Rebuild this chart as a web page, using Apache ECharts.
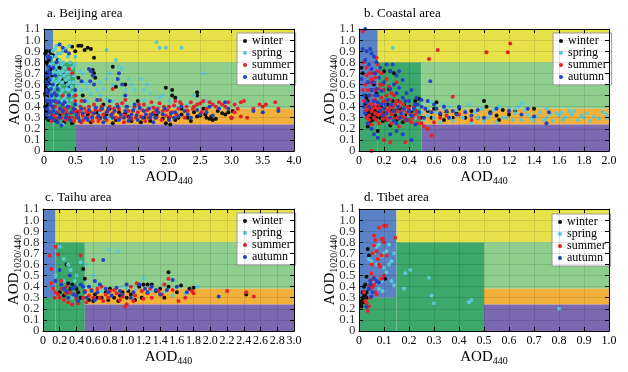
<!DOCTYPE html>
<html><head><meta charset="utf-8">
<script src="https://cdn.jsdelivr.net/npm/echarts@6/dist/echarts.min.js"></script>
<style>html,body{margin:0;padding:0;background:#fff}#c{width:628px;height:372px}</style>
</head><body><div id="c"></div>
<script>
// ---------- data ----------
const panelTitles = ['a. Beijing area','b. Coastal area','c. Taihu area','d. Tibet area'];
const seasons = ['winter','spring','summer','autumn'];
const xMax = [4, 2, 3, 1];
const xStep = [0.5, 0.2, 0.2, 0.1];
const yMax = 1.1, yStep = 0.1;
const yTicks = [0, 0.1, 0.2, 0.3, 0.4, 0.5, 0.6, 0.7, 0.8, 0.9, 1.0, 1.1];
// aerosol-type regions: [x0, x1 (null = axis max), y0, y1]
const regions = [
  [0, 0.15, 0.3, 1.1],
  [0.15, 0.5, 0, 0.8],
  [0, 0.15, 0, 0.3],
  [0.15, null, 0.8, 1.1],
  [0.5, null, 0.38, 0.8],
  [0.5, null, 0.24, 0.38],
  [0.5, null, 0, 0.24]
];

// Beijing
const bjWinter = [[0.03,0.62],[0.05,0.65],[0.04,0.7],[0.06,0.66],[0.08,0.63],[0.05,0.55],[0.07,0.5],[0.03,0.45],[0.09,0.72],[0.1,0.9],[0.12,0.88],[0.15,0.86],[0.06,0.78],[0.04,0.8],[0.02,0.4],[0.08,0.35],[0.1,0.3],[0.14,0.32],[0.18,0.28],[0.2,0.6],[0.25,0.75],[0.3,0.7],[0.35,0.62],[0.45,0.94],[0.55,0.95],[0.6,0.95],[0.7,0.93],[0.75,0.92],[0.65,0.91],[0.5,0.9],[0.8,0.7],[0.82,0.66],[0.78,0.73],[1.1,0.76],[1.15,0.58],[1.95,0.57],[2.05,0.55],[2.05,0.5],[2.1,0.48],[2.45,0.53],[2.45,0.5],[1.5,0.45],[0.95,0.42],[0.4,0.3],[0.6,0.28],[0.7,0.33],[0.9,0.3],[1.1,0.25],[1.2,0.35],[1.4,0.27],[1.6,0.3],[1.8,0.32],[1.95,0.25],[2.0,0.3],[2.1,0.28],[2.2,0.33],[2.3,0.3],[2.4,0.35],[2.5,0.32],[2.6,0.3],[2.65,0.29],[2.7,0.28],[2.75,0.29],[2.9,0.33],[2.95,0.35],[2.55,0.38],[2.2,0.38],[1.7,0.27],[0.5,0.37],[1.3,0.34],[1.05,0.38],[0.25,0.32],[0.15,0.4],[3.0,0.3],[2.85,0.34],
  [0.02,0.88],[0.04,0.9],[0.07,0.85],[0.03,0.58],[0.05,0.6],[0.02,0.52],[0.06,0.42],[0.04,0.36],[0.09,0.55],[0.11,0.6],[0.13,0.68],[0.08,0.82],[0.12,0.74],[0.03,0.3],[0.07,0.28],[0.2,0.27],[0.32,0.26],[0.45,0.25],[0.55,0.35],[0.75,0.26],[0.85,0.35],[1.0,0.33],[1.15,0.28],[1.35,0.31],[1.55,0.26],[1.75,0.34],[1.9,0.29],[2.02,0.24],[2.15,0.3],[2.35,0.27],[2.45,0.31],[2.58,0.33],[2.68,0.31],[2.78,0.36],[3.02,0.36],[0.18,0.72],[0.22,0.82],[0.28,0.64],[0.4,0.58],[0.55,0.66],[0.62,0.5],[1.3,0.6],[0.8,0.84]];
const bjSpring = [[0.12,0.85],[0.15,0.8],[0.18,0.75],[0.2,0.7],[0.22,0.88],[0.25,0.82],[0.28,0.78],[0.3,0.72],[0.32,0.68],[0.35,0.64],[0.38,0.6],[0.4,0.55],[0.42,0.5],[0.45,0.46],[0.2,0.62],[0.25,0.58],[0.3,0.55],[0.18,0.52],[0.22,0.48],[0.15,0.65],[0.12,0.55],[0.28,0.45],[0.35,0.5],[0.38,0.72],[0.42,0.8],[0.3,0.9],[0.35,0.92],[0.2,0.95],[0.25,0.96],[0.5,0.85],[0.55,0.6],[0.6,0.55],[0.48,0.68],[0.16,0.72],[0.26,0.66],[0.33,0.42],[0.14,0.46],[0.45,0.75],[0.52,0.5],[0.7,0.6],[0.75,0.52],[0.85,0.55],[0.9,0.62],[1.0,0.91],[1.0,0.65],[1.05,0.7],[1.15,0.82],[1.2,0.76],[1.25,0.74],[1.1,0.6],[1.3,0.55],[1.4,0.6],[1.55,0.65],[1.6,0.55],[1.7,0.52],[1.8,0.98],[1.85,0.93],[1.95,0.93],[2.2,0.93],[1.9,0.5],[2.0,0.45],[2.55,0.7],[2.3,0.42],[0.8,0.4],[1.2,0.43],[0.6,0.28],[0.3,0.24],[0.9,0.35],[1.5,0.38],[1.75,0.4],[1.0,0.47],[0.55,0.42],[2.6,0.45],
  [0.1,0.78],[0.13,0.7],[0.17,0.6],[0.19,0.85],[0.21,0.78],[0.23,0.72],[0.24,0.64],[0.27,0.7],[0.29,0.62],[0.31,0.8],[0.33,0.75],[0.36,0.7],[0.37,0.56],[0.39,0.66],[0.41,0.62],[0.43,0.7],[0.44,0.58],[0.46,0.52],[0.47,0.62],[0.49,0.78],[0.16,0.58],[0.19,0.4],[0.23,0.38],[0.27,0.52],[0.32,0.48],[0.36,0.45],[0.4,0.42],[0.13,0.62],[0.11,0.5],[0.09,0.58],[0.14,0.9],[0.18,0.92],[0.26,0.88],[0.4,0.95],[0.38,0.85],[0.62,0.7],[0.65,0.62],[0.68,0.55],[0.58,0.72],[0.9,0.5],[0.95,0.56],[1.35,0.65],[1.45,0.55],[1.65,0.6],[1.85,0.48],[2.15,0.45],[2.4,0.5],[2.1,0.4],[0.7,0.45],[1.1,0.45],[1.3,0.4],[1.6,0.46],[0.45,0.3],[0.75,0.3],[1.05,0.3],[1.4,0.33],[1.9,0.35],[0.2,0.32]];
const bjSummer = [[0.1,0.35],[0.15,0.32],[0.2,0.3],[0.25,0.38],[0.3,0.34],[0.35,0.28],[0.4,0.4],[0.45,0.3],[0.5,0.36],[0.55,0.33],[0.6,0.26],[0.65,0.38],[0.7,0.3],[0.75,0.35],[0.8,0.42],[0.85,0.3],[0.9,0.37],[0.95,0.33],[1.0,0.28],[1.05,0.4],[1.1,0.34],[1.15,0.3],[1.2,0.38],[1.25,0.43],[1.3,0.32],[1.35,0.36],[1.4,0.29],[1.45,0.4],[1.5,0.35],[1.55,0.31],[1.6,0.42],[1.65,0.37],[1.7,0.33],[1.75,0.39],[1.8,0.3],[1.85,0.43],[1.9,0.36],[1.95,0.32],[2.0,0.4],[2.05,0.35],[2.1,0.45],[2.15,0.38],[2.2,0.42],[2.3,0.36],[2.35,0.44],[2.4,0.4],[2.5,0.43],[2.55,0.45],[2.6,0.38],[2.7,0.42],[2.8,0.44],[2.9,0.4],[3.0,0.3],[3.05,0.42],[3.1,0.38],[3.15,0.44],[3.2,0.45],[3.05,0.35],[3.25,0.3],[3.35,0.38],[3.5,0.4],[3.55,0.42],[3.7,0.44],[3.75,0.38],[0.4,0.74],[0.45,0.7],[0.5,0.45],[1.1,0.56],[0.3,0.5],[0.2,0.44],[0.12,0.27],[0.62,0.32],[0.78,0.27],[1.02,0.36],[1.28,0.26],[1.62,0.27],[1.88,0.28],[2.25,0.3],[0.35,0.36],[0.58,0.4],
  [0.15,0.28],[0.22,0.35],[0.28,0.3],[0.33,0.38],[0.38,0.3],[0.42,0.34],[0.48,0.27],[0.52,0.3],[0.57,0.36],[0.63,0.28],[0.68,0.35],[0.72,0.4],[0.77,0.31],[0.82,0.37],[0.87,0.27],[0.92,0.4],[0.97,0.3],[1.07,0.32],[1.12,0.38],[1.17,0.42],[1.22,0.3],[1.32,0.4],[1.37,0.3],[1.42,0.36],[1.47,0.3],[1.52,0.42],[1.57,0.37],[1.67,0.3],[1.72,0.44],[1.77,0.35],[1.82,0.38],[1.92,0.4],[1.97,0.37],[2.02,0.31],[2.08,0.41],[2.12,0.33],[2.18,0.44],[2.28,0.4],[2.38,0.38],[2.45,0.42],[2.52,0.35],[2.65,0.44],[2.75,0.4],[2.85,0.42],[2.95,0.44],[3.15,0.31],[3.45,0.42],[0.5,0.5],[0.3,0.42],[0.18,0.4],[0.6,0.45],[0.9,0.46],[1.3,0.46]];
const bjAutumn = [[0.02,0.5],[0.04,0.55],[0.06,0.6],[0.08,0.45],[0.05,0.38],[0.1,0.42],[0.12,0.5],[0.03,0.33],[0.07,0.3],[0.14,0.6],[0.1,0.7],[0.08,0.76],[0.06,0.85],[0.15,0.36],[0.18,0.45],[0.2,0.34],[0.25,0.96],[0.3,0.93],[0.35,0.9],[0.4,0.88],[0.25,0.3],[0.22,0.26],[0.28,0.23],[0.72,0.74],[0.75,0.72],[0.78,0.68],[0.74,0.63],[0.8,0.6],[1.2,0.7],[1.18,0.65],[1.25,0.6],[1.3,0.5],[2.9,0.44],[3.75,0.36],[3.5,0.35],[3.35,0.36],[0.35,0.3],[0.45,0.35],[0.55,0.3],[0.6,0.38],[0.7,0.28],[0.8,0.34],[0.9,0.3],[1.0,0.35],[1.1,0.3],[1.2,0.28],[1.3,0.36],[1.4,0.33],[1.5,0.28],[1.6,0.36],[1.7,0.3],[1.8,0.37],[1.9,0.33],[2.0,0.28],[2.1,0.35],[2.2,0.4],[2.3,0.33],[2.45,0.37],[2.6,0.35],[2.7,0.32],[2.8,0.38],[2.95,0.38],[0.5,0.42],[0.65,0.45],[0.85,0.46],[1.05,0.45],[1.45,0.42],[0.3,0.42],[0.4,0.5],[0.16,0.28],[0.95,0.26],[1.35,0.27],[1.75,0.26],[2.15,0.31],[0.5,0.55],[0.6,0.63],
  [0.03,0.62],[0.05,0.68],[0.07,0.72],[0.09,0.64],[0.11,0.56],[0.13,0.45],[0.04,0.45],[0.06,0.52],[0.09,0.35],[0.12,0.3],[0.14,0.4],[0.17,0.52],[0.2,0.5],[0.22,0.56],[0.24,0.44],[0.26,0.38],[0.3,0.36],[0.33,0.44],[0.36,0.33],[0.38,0.4],[0.42,0.28],[0.47,0.38],[0.52,0.33],[0.57,0.27],[0.62,0.34],[0.67,0.3],[0.72,0.37],[0.77,0.3],[0.83,0.39],[0.87,0.32],[0.93,0.38],[0.98,0.3],[1.03,0.38],[1.08,0.33],[1.13,0.36],[1.18,0.4],[1.23,0.33],[1.28,0.3],[1.33,0.4],[1.38,0.3],[1.43,0.37],[1.48,0.32],[1.53,0.39],[1.58,0.3],[1.63,0.33],[1.68,0.38],[1.73,0.33],[1.78,0.3],[1.83,0.35],[1.93,0.38],[2.03,0.34],[2.08,0.3],[2.25,0.36],[2.35,0.3],[2.5,0.33],[2.65,0.4],[0.15,0.75],[0.2,0.8],[0.18,0.68],[0.1,0.84]];

// Coastal
const caWinter = [[0.02,0.75],[0.03,0.7],[0.05,0.5],[0.06,0.48],[0.08,0.35],[0.1,0.32],[0.1,0.3],[0.12,0.33],[0.09,0.38],[0.11,0.28],[0.13,0.36],[0.15,0.4],[0.17,0.3],[0.2,0.34],[0.22,0.28],[0.25,0.72],[0.28,0.7],[0.27,0.45],[0.3,0.38],[0.32,0.3],[0.35,0.26],[0.38,0.33],[0.4,0.4],[0.42,0.36],[0.45,0.45],[0.48,0.47],[0.5,0.3],[0.55,0.36],[0.6,0.38],[0.62,0.44],[0.65,0.33],[0.7,0.35],[0.75,0.3],[0.8,0.38],[0.85,0.3],[0.9,0.36],[1.0,0.45],[1.02,0.4],[1.05,0.35],[1.1,0.32],[1.15,0.37],[1.2,0.33],[1.25,0.36],[1.4,0.38],[0.15,0.18],[0.07,0.22],[0.18,0.6],[0.24,0.56],[0.14,0.52],
  [0.06,0.33],[0.08,0.3],[0.09,0.27],[0.11,0.35],[0.12,0.4],[0.14,0.3],[0.16,0.35],[0.18,0.4],[0.19,0.27],[0.21,0.31],[0.23,0.42],[0.26,0.36],[0.29,0.32],[0.31,0.45],[0.33,0.38],[0.36,0.42],[0.39,0.28],[0.44,0.31],[0.05,0.42],[0.07,0.45],[0.1,0.55],[0.12,0.6],[0.2,0.72],[0.3,0.28],[0.25,0.23],[0.58,0.3],[0.68,0.28],[0.78,0.34],[0.95,0.3],[1.12,0.28]];
const caSpring = [[0.27,0.93],[0.3,0.4],[0.35,0.35],[0.4,0.32],[0.45,0.3],[0.5,0.35],[0.52,0.28],[0.55,0.38],[0.6,0.3],[0.65,0.26],[0.7,0.33],[0.72,0.4],[0.75,0.27],[0.8,0.32],[0.85,0.36],[0.9,0.25],[0.95,0.3],[1.0,0.27],[1.05,0.33],[1.1,0.26],[1.15,0.3],[1.2,0.38],[1.25,0.34],[1.28,0.4],[1.3,0.28],[1.35,0.33],[1.4,0.27],[1.45,0.35],[1.5,0.3],[1.55,0.27],[1.6,0.32],[1.65,0.3],[1.7,0.33],[1.75,0.28],[1.8,0.3],[1.85,0.27],[1.98,0.33],[1.99,0.3],[1.3,0.43],[1.25,0.38],[0.25,0.3],[0.2,0.42],[0.58,0.44],[0.88,0.42],[1.62,0.35],[1.72,0.36],[0.98,0.38],[1.12,0.4],[0.68,0.38],[0.48,0.4],[1.42,0.31],[1.58,0.34],[1.82,0.34],
  [0.35,0.42],[0.42,0.38],[0.55,0.32],[0.62,0.35],[0.67,0.42],[0.73,0.3],[0.78,0.37],[0.83,0.3],[0.93,0.35],[1.03,0.3],[1.08,0.37],[1.18,0.3],[1.23,0.28],[1.33,0.37],[1.38,0.3],[1.48,0.28],[1.53,0.33],[1.63,0.28],[1.68,0.36],[1.78,0.32],[1.88,0.31],[1.92,0.29],[1.5,0.38],[1.95,0.35]];
const caSummer = [[0.03,1.08],[0.04,0.8],[0.06,0.75],[0.08,0.7],[0.1,0.65],[0.12,0.62],[0.14,0.84],[0.15,0.72],[0.17,0.6],[0.05,0.6],[0.07,0.55],[0.09,0.5],[0.11,0.45],[0.13,0.4],[0.15,0.38],[0.18,0.35],[0.2,0.32],[0.22,0.3],[0.24,0.37],[0.26,0.33],[0.28,0.29],[0.3,0.36],[0.32,0.4],[0.34,0.32],[0.36,0.3],[0.38,0.35],[0.4,0.28],[0.42,0.26],[0.45,0.33],[0.48,0.3],[0.5,0.25],[0.52,0.22],[0.55,0.2],[0.58,0.14],[0.6,0.26],[0.65,0.3],[0.7,0.32],[0.75,0.49],[0.1,0.36],[0.12,0.3],[0.14,0.28],[0.16,0.25],[0.08,0.32],[0.06,0.4],[0.04,0.45],[0.2,0.55],[0.22,0.5],[0.25,0.46],[0.18,0.48],[0.16,0.42],[0.3,0.45],[0.35,0.42],[0.28,0.5],[0.24,0.58],[0.26,0.25],[0.32,0.22],[0.1,0.24],[0.2,0.1],[0.25,0.08],[0.37,0.08],[0.1,0.0],[0.56,0.83],[0.63,0.91],[1.02,0.89],[1.19,0.89],[1.21,0.97],[0.18,0.7],[0.15,0.78],[0.12,0.55],[0.22,0.65],[0.3,0.62],[0.11,0.42],[0.13,0.34],[0.19,0.29],[0.23,0.36],[0.27,0.4],[0.33,0.35],[0.4,0.38],[0.44,0.4],[0.46,0.36],[0.8,0.33],[0.9,0.28],[0.06,0.3],[0.08,0.28],[0.17,0.33],[0.21,0.38],
  [0.05,0.36],[0.07,0.38],[0.09,0.42],[0.11,0.38],[0.13,0.46],[0.15,0.33],[0.17,0.38],[0.19,0.44],[0.21,0.33],[0.23,0.28],[0.25,0.4],[0.27,0.35],[0.29,0.42],[0.31,0.3],[0.33,0.44],[0.35,0.37],[0.37,0.28],[0.39,0.4],[0.41,0.33],[0.43,0.3],[0.47,0.25],[0.09,0.62],[0.11,0.7],[0.13,0.66],[0.16,0.56],[0.19,0.6],[0.21,0.45],[0.26,0.52],[0.06,0.68],[0.03,0.55]];
const caAutumn = [[0.05,1.1],[0.03,0.92],[0.06,0.9],[0.09,0.92],[0.1,0.88],[0.12,0.85],[0.05,0.82],[0.08,0.78],[0.1,0.74],[0.13,0.7],[0.16,0.66],[0.2,0.62],[0.22,0.78],[0.25,0.72],[0.3,0.68],[0.35,0.64],[0.25,0.56],[0.3,0.52],[0.35,0.48],[0.4,0.45],[0.45,0.42],[0.5,0.4],[0.55,0.45],[0.6,0.42],[0.57,0.63],[0.68,0.4],[0.75,0.36],[0.8,0.4],[0.85,0.35],[0.95,0.37],[1.05,0.34],[1.2,0.36],[1.3,0.33],[1.35,0.38],[1.5,0.25],[1.52,0.35],[0.15,0.5],[0.12,0.45],[0.18,0.42],[0.2,0.38],[0.22,0.34],[0.25,0.3],[0.28,0.27],[0.3,0.25],[0.33,0.3],[0.36,0.38],[0.38,0.28],[0.42,0.32],[0.45,0.24],[0.48,0.35],[0.52,0.3],[0.1,0.2],[0.12,0.15],[0.15,0.12],[0.25,0.15],[0.3,0.18],[0.35,0.15],[0.42,0.1],[0.07,0.25],[0.05,0.34],[0.04,0.5],[0.07,0.62],[0.02,0.65],[0.14,0.56],[0.18,0.54],[0.28,0.6],[0.32,0.57],[0.38,0.52],[0.42,0.55],[0.46,0.48],[0.65,0.34],[0.72,0.3],[0.9,0.32],[1.0,0.3],[1.1,0.38],[1.4,0.31],
  [0.06,0.44],[0.08,0.5],[0.1,0.55],[0.11,0.62],[0.13,0.5],[0.15,0.44],[0.17,0.36],[0.19,0.32],[0.21,0.42],[0.23,0.46],[0.26,0.42],[0.28,0.36],[0.31,0.4],[0.34,0.34],[0.37,0.45],[0.4,0.36],[0.44,0.38],[0.47,0.42],[0.5,0.46],[0.53,0.38],[0.58,0.35],[0.62,0.38],[0.7,0.36],[0.78,0.33],[0.08,0.4],[0.04,0.4],[0.14,0.8],[0.17,0.75],[0.27,0.78],[0.32,0.72]];

// Taihu
const thWinter = [[0.28,0.6],[0.3,0.43],[0.35,0.42],[0.48,0.56],[0.5,0.47],[0.4,0.38],[0.42,0.35],[0.45,0.3],[0.3,0.35],[0.25,0.32],[0.55,0.28],[0.6,0.27],[0.7,0.3],[0.75,0.35],[0.8,0.38],[0.85,0.3],[0.9,0.27],[1.0,0.3],[1.05,0.33],[1.1,0.28],[1.15,0.4],[1.2,0.42],[1.25,0.42],[1.3,0.42],[1.35,0.36],[1.45,0.3],[1.5,0.53],[1.5,0.4],[1.6,0.35],[1.65,0.41],[1.75,0.38],[1.8,0.39],[2.43,0.33],[0.62,0.33],[0.95,0.35],[1.4,0.38],[0.65,0.3],[0.78,0.28],[0.92,0.32],[1.02,0.36],[1.18,0.3],[0.2,0.35],[0.33,0.38]];
const thSpring = [[0.2,0.76],[0.25,0.65],[0.33,0.55],[0.3,0.6],[0.38,0.45],[0.4,0.5],[0.45,0.62],[0.5,0.4],[0.52,0.6],[0.6,0.5],[0.65,0.42],[0.78,0.73],[0.9,0.72],[0.95,0.4],[1.2,0.48],[1.3,0.36],[1.45,0.35],[1.55,0.32],[1.7,0.34],[1.85,0.4],[0.35,0.3],[0.7,0.36],[1.0,0.38],[0.15,0.5],[0.25,0.45],[1.1,0.37]];
const thSummer = [[0.08,0.68],[0.1,0.56],[0.1,0.43],[0.15,0.76],[0.18,0.69],[0.12,0.38],[0.15,0.35],[0.18,0.33],[0.2,0.3],[0.22,0.38],[0.25,0.28],[0.28,0.4],[0.3,0.26],[0.35,0.24],[0.38,0.33],[0.42,0.25],[0.45,0.68],[0.48,0.3],[0.5,0.36],[0.55,0.32],[0.6,0.64],[0.6,0.3],[0.65,0.38],[0.7,0.4],[0.72,0.27],[0.78,0.3],[0.8,0.36],[0.88,0.34],[0.92,0.28],[0.98,0.22],[1.0,0.24],[1.05,0.4],[1.1,0.32],[1.12,0.43],[1.18,0.36],[1.25,0.34],[1.3,0.3],[1.38,0.36],[1.45,0.42],[1.5,0.47],[1.55,0.37],[1.62,0.27],[1.7,0.3],[1.78,0.36],[1.8,0.34],[2.2,0.36],[2.43,0.35],[2.52,0.31],[0.22,0.45],[0.32,0.35],[0.52,0.26],[0.75,0.33],[0.95,0.31],[1.2,0.29],[0.14,0.3],[0.27,0.34],[0.4,0.29],[0.58,0.37],[0.68,0.3],[0.85,0.37],[1.08,0.27],[1.28,0.38],[1.42,0.33]];
const thAutumn = [[0.15,0.45],[0.2,0.55],[0.22,0.42],[0.28,0.36],[0.32,0.5],[0.35,0.38],[0.38,0.4],[0.4,0.32],[0.45,0.42],[0.5,0.35],[0.52,0.3],[0.55,0.4],[0.58,0.36],[0.62,0.28],[0.68,0.42],[0.72,0.64],[0.75,0.38],[0.82,0.32],[0.88,0.39],[0.95,0.33],[1.0,0.42],[1.08,0.35],[1.15,0.42],[1.22,0.38],[1.3,0.4],[1.4,0.33],[1.48,0.37],[1.55,0.46],[1.6,0.4],[1.72,0.35],[2.1,0.31],[0.42,0.27],[0.3,0.3],[0.62,0.45],[0.25,0.38],[0.36,0.33],[0.48,0.4],[0.65,0.35],[0.78,0.35],[0.92,0.36],[1.05,0.3],[1.25,0.35],[1.35,0.37]];

// Tibet
const tbWinter = [[0.01,0.22],[0.01,0.25],[0.015,0.3],[0.02,0.28],[0.02,0.33],[0.015,0.35],[0.025,0.32],[0.03,0.35],[0.02,0.4],[0.025,0.42],[0.03,0.49],[0.035,0.74],[0.04,0.68],[0.01,0.27],[0.03,0.3],[0.105,0.47],[0.04,0.38],[0.02,0.26],[0.03,0.22]];
const tbSpring = [[0.04,0.65],[0.05,0.63],[0.06,0.7],[0.07,0.76],[0.08,0.78],[0.09,0.67],[0.1,0.7],[0.11,0.72],[0.12,0.6],[0.13,0.63],[0.12,0.78],[0.14,0.7],[0.1,0.57],[0.09,0.45],[0.08,0.38],[0.06,0.45],[0.14,0.41],[0.13,0.45],[0.07,0.6],[0.185,0.52],[0.205,0.55],[0.18,0.38],[0.28,0.48],[0.29,0.32],[0.3,0.25],[0.44,0.26],[0.45,0.28],[0.8,0.2],[0.11,0.53],[0.095,0.36]];
const tbSummer = [[0.02,0.35],[0.025,0.27],[0.03,0.25],[0.035,0.18],[0.04,0.22],[0.04,0.4],[0.05,0.46],[0.055,0.4],[0.06,0.42],[0.06,0.48],[0.065,0.35],[0.07,0.33],[0.05,0.52],[0.05,0.6],[0.055,0.7],[0.06,0.77],[0.065,0.82],[0.06,0.86],[0.07,0.72],[0.075,0.65],[0.08,0.6],[0.085,0.58],[0.09,0.68],[0.095,0.83],[0.1,0.95],[0.105,0.95],[0.11,0.95],[0.1,0.8],[0.11,0.68],[0.09,0.83],[0.08,0.93],[0.145,0.84],[0.09,0.47],[0.05,0.39],[0.07,0.45],[0.1,0.5],[0.045,0.3]];
const tbAutumn = [[0.03,0.22],[0.04,0.38],[0.045,0.42],[0.05,0.31],[0.06,0.47],[0.07,0.45],[0.08,0.44],[0.055,0.35],[0.045,0.45]];

const panelData = [
  [bjWinter, bjSpring, bjSummer, bjAutumn],
  [caWinter, caSpring, caSummer, caAutumn],
  [thWinter, thSpring, thSummer, thAutumn],
  [tbWinter, tbSpring, tbSummer, tbAutumn]
];

// ---------- styles / layout ----------
const FONT = '"Liberation Serif","Times New Roman",serif';
const seasonColors = ['#111111','#5ccbd6','#e8232b','#2243c3'];
const regionColors = ['#5b82c6','#3da86c','#3da86c','#e7e24a','#8fcf8e','#f1b13a','#7b69b1'];
const grids = [
  {left:44, top:29, width:250, height:122},
  {left:359, top:29, width:250, height:122},
  {left:43, top:209, width:251, height:122},
  {left:359, top:209, width:250, height:122}
];
const titlePos = [[47,7],[364,7],[45,191],[364,191]];
const legendPos = [[237,33],[553,33],[237,213],[552,214]];

const fmt = v => (Math.abs(v) < 1e-9 ? '0' : v.toFixed(1));
const nameRich = {
  m: {fontFamily: FONT, fontSize: 15, color: '#000', lineHeight: 18, verticalAlign: 'middle'},
  s: {fontFamily: FONT, fontSize: 10, color: '#000', lineHeight: 12, verticalAlign: 'bottom', padding: [6,0,0,0]}
};
const xTickLabel = {formatter: fmt, margin: 4, fontFamily: FONT, fontSize: 12, color: '#000', showMinLabel: true, showMaxLabel: true, hideOverlap: false};

const option = {
  animation: false,
  backgroundColor: '#fff',
  title: panelTitles.map((t, i) => ({
    text: t, left: titlePos[i][0], top: titlePos[i][1], padding: 0,
    textStyle: {fontFamily: FONT, fontSize: 13, fontWeight: 'normal', color: '#000'}
  })),
  legend: legendPos.map((p, i) => ({
    data: seasons, left: p[0], top: p[1], orient: 'vertical',
    backgroundColor: '#fff', borderColor: '#9a9a9a', borderWidth: 1,
    padding: [2, 5, 2, 6], itemGap: 0, itemWidth: 4, itemHeight: 4, icon: 'circle',
    selectedMode: false,
    textStyle: {fontFamily: FONT, fontSize: 12, color: '#000', lineHeight: 11}
  })),
  grid: grids.map(g => Object.assign({containLabel: false, outerBoundsMode: 'none'}, g)),
  xAxis: [],
  yAxis: [],
  series: []
};

for (let i = 0; i < 4; i++) {
  option.xAxis.push({
    type: 'value', gridIndex: i, min: 0, max: xMax[i], interval: xStep[i], z: 6,
    name: '{m|AOD}{s|440}', nameLocation: 'middle', nameGap: 17,
    nameTextStyle: {rich: nameRich},
    axisLine: {show: true, onZero: false, lineStyle: {color: '#000', width: 1}},
    axisTick: {show: true, inside: true, length: 4, lineStyle: {color: '#000'}},
    axisLabel: xTickLabel,
    splitLine: {show: true, lineStyle: {color: 'rgba(0,0,0,0.10)', width: 1}}
  });
  option.yAxis.push({
    type: 'value', gridIndex: i, min: 0, max: yMax, interval: yStep, z: 6,
    name: '{m|AOD}{s|1020/440}', nameLocation: 'middle', nameGap: 20, nameRotate: 90,
    nameTextStyle: {rich: nameRich},
    axisLine: {show: true, onZero: false, lineStyle: {color: '#000', width: 1}},
    axisTick: {show: true, inside: true, length: 4, lineStyle: {color: '#000'}, customValues: yTicks},
    axisLabel: {show: false},
    splitLine: {show: true, lineStyle: {color: 'rgba(0,0,0,0.10)', width: 1}}
  });
}
for (let i = 0; i < 4; i++) {
  option.xAxis.push({
    type: 'value', gridIndex: i, min: 0, max: xMax[i], interval: xStep[i], position: 'top', z: 6,
    axisLine: {show: true, onZero: false, lineStyle: {color: '#000'}},
    axisTick: {show: true, inside: true, length: 4, lineStyle: {color: '#000'}},
    axisLabel: {show: false}, splitLine: {show: false}
  });
  option.yAxis.push({
    type: 'value', gridIndex: i, min: 0, max: yMax, interval: yStep, position: 'right', z: 6,
    axisLine: {show: true, onZero: false, lineStyle: {color: '#000'}},
    axisTick: {show: true, inside: true, length: 4, lineStyle: {color: '#000'}, customValues: yTicks},
    axisLabel: {show: false}, splitLine: {show: false}
  });
}

for (let i = 0; i < 4; i++) {
  const rdata = regions.map((r, k) => [r[0], r[2], r[1] === null ? xMax[i] : r[1], r[3], k]);
  option.series.push({
    type: 'custom', xAxisIndex: i, yAxisIndex: i, z: 1, silent: true,
    encode: {x: [0, 2], y: [1, 3]},
    data: rdata,
    renderItem: function (params, api) {
      const p0 = api.coord([api.value(0), api.value(1)]);
      const p1 = api.coord([api.value(2), api.value(3)]);
      return {
        type: 'rect',
        shape: {x: p0[0], y: p1[1], width: p1[0] - p0[0], height: p0[1] - p1[1]},
        style: {fill: regionColors[api.value(4)]}
      };
    }
  });
  seasons.forEach((s, k) => {
    option.series.push({
      type: 'scatter', name: s, xAxisIndex: i, yAxisIndex: i, z: 3,
      data: panelData[i][k], symbol: 'circle', symbolSize: 4,
      itemStyle: {color: seasonColors[k], opacity: 1}
    });
  });
  // y tick labels placed through the y scale
  option.series.push({
    type: 'scatter', name: 'ylabels' + i, xAxisIndex: i, yAxisIndex: i, z: 7, silent: true, clip: false,
    data: yTicks.map(v => [0, v]), symbol: 'circle', symbolSize: 1,
    itemStyle: {color: 'rgba(0,0,0,0)'},
    label: {show: true, position: 'left', distance: 3, formatter: p => fmt(p.value[1]),
            fontFamily: FONT, fontSize: 13, color: '#000'},
    labelLayout: {hideOverlap: false}
  });
}

const chart = echarts.init(document.getElementById('c'), null, {renderer: 'canvas'});
chart.setOption(option);
</script>
</body></html>
